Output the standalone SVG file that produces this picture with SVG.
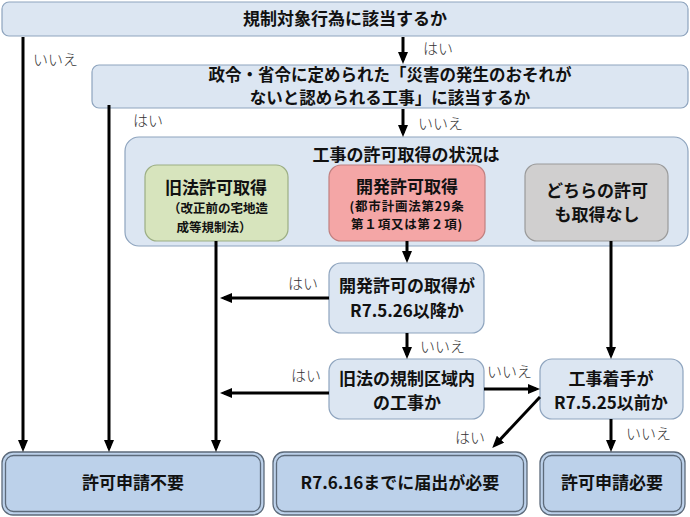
<svg xmlns="http://www.w3.org/2000/svg" width="690" height="517" viewBox="0 0 690 517">
<defs>
<marker id="ah" markerUnits="userSpaceOnUse" markerWidth="12" markerHeight="10" refX="8" refY="5" orient="auto">
<path d="M0,0 L12,5 L0,10 z" fill="#000"/>
</marker>
<style>
.q{fill:#dce6f2;stroke:#8ea4be;stroke-width:1.2}
.g{fill:#d7e4bd;stroke:#9cae84;stroke-width:1.2}
.r{fill:#f4a6a6;stroke:#c08080;stroke-width:1.2}
.n{fill:#d0cfcf;stroke:#9a9a9a;stroke-width:1.2}
.end{fill:#bcd1ea;stroke:#5c6a7a;stroke-width:1.3}
.t{font-family:"Noto Sans CJK JP","Noto Sans",sans-serif;font-weight:bold;font-size:17px;fill:#111;text-anchor:middle}
.t2{font-size:16.5px}
.s{font-family:"Noto Sans CJK JP","Noto Sans",sans-serif;font-weight:bold;font-size:12.5px;fill:#111;text-anchor:middle}
.l{font-family:"Noto Sans CJK JP","Noto Sans",sans-serif;font-weight:300;font-size:15px;fill:#333}
.c line{stroke:#000;stroke-width:3}
.c line.a{marker-end:url(#ah)}
</style>
</defs>

<g id="q1">
<rect class="q" x="2" y="2" width="686" height="34" rx="7"/>
<text class="t" x="345" y="25">規制対象行為に該当するか</text>
</g>
<g id="q2">
<rect class="q" x="92" y="65" width="596" height="43" rx="7"/>
<text class="t t2" x="390" y="81">政令・省令に定められた「災害の発生のおそれが</text>
<text class="t t2" x="390" y="104">ないと認められる工事」に該当するか</text>
</g>
<g id="status">
<rect class="q" x="125" y="137" width="563" height="109" rx="14"/>
<text class="t" x="406" y="161">工事の許可取得の状況は</text>
</g>
<g id="old">
<rect class="g" x="145" y="165" width="143" height="76" rx="12"/>
<text class="t" x="216" y="194">旧法許可取得</text>
<text class="s" x="218" y="213">（改正前の宅地造</text>
<text class="s" x="214" y="232">成等規制法）</text>
</g>
<g id="dev">
<rect class="r" x="329" y="165" width="156" height="76" rx="12"/>
<text class="t" x="407" y="193">開発許可取得</text>
<text class="s" x="407" y="211" style="letter-spacing:0.8px">(都市計画法第29条</text>
<text class="s" x="407" y="229" style="letter-spacing:0.8px">第１項又は第２項)</text>
</g>
<g id="none">
<rect class="n" x="525" y="164" width="143" height="77" rx="12"/>
<text class="t" x="597" y="197">どちらの許可</text>
<text class="t" x="597" y="221">も取得なし</text>
</g>
<g id="q3">
<rect class="q" x="329" y="263" width="155" height="70" rx="12"/>
<text class="t" x="407" y="292">開発許可の取得が</text>
<text class="t" x="407" y="317">R7.5.26以降か</text>
</g>
<g id="q4">
<rect class="q" x="329" y="359" width="155" height="60" rx="12"/>
<text class="t" x="407" y="385">旧法の規制区域内</text>
<text class="t" x="407" y="409">の工事か</text>
</g>
<g id="q5">
<rect class="q" x="540" y="359" width="143" height="60" rx="12"/>
<text class="t" x="611" y="385">工事着手が</text>
<text class="t" x="611" y="409">R7.5.25以前か</text>
</g>
<g id="r1">
<rect class="end" x="2" y="452" width="262" height="63" rx="11"/>
<rect class="end" x="5.5" y="455.5" width="255" height="56" rx="8"/>
<text class="t" x="133" y="489">許可申請不要</text>
</g>
<g id="r2">
<rect class="end" x="273" y="452" width="254" height="63" rx="11"/>
<rect class="end" x="276.5" y="455.5" width="247" height="56" rx="8"/>
<text class="t" x="400" y="489">R7.6.16までに届出が必要</text>
</g>
<g id="r3">
<rect class="end" x="540" y="452" width="145" height="63" rx="11"/>
<rect class="end" x="543.5" y="455.5" width="138" height="56" rx="8"/>
<text class="t" x="612" y="489">許可申請必要</text>
</g>

<g id="connectors" class="c">
<line class="a" x1="403" y1="37" x2="403" y2="60"/>
<line class="a" x1="403" y1="109" x2="403" y2="133"/>
<line class="a" x1="23" y1="37" x2="23" y2="448"/>
<line class="a" x1="109" y1="105" x2="109" y2="448"/>
<line class="a" x1="216" y1="241" x2="216" y2="448"/>
<line class="a" x1="407" y1="241" x2="407" y2="259"/>
<line class="a" x1="407" y1="333" x2="407" y2="355"/>
<line class="a" x1="611" y1="241" x2="611" y2="355"/>
<line class="a" x1="329" y1="298" x2="224" y2="298"/>
<line class="a" x1="329" y1="393" x2="224" y2="393"/>
<line class="a" x1="484" y1="389" x2="536" y2="389"/>
<line class="a" x1="540" y1="397" x2="495" y2="445"/>
<line class="a" x1="611" y1="419" x2="611" y2="448"/>
</g>

<g id="labels">
<text class="l" x="33" y="65">いいえ</text>
<text class="l" x="423" y="54">はい</text>
<text class="l" x="133" y="126">はい</text>
<text class="l" x="418" y="129">いいえ</text>
<text class="l" x="288" y="289">はい</text>
<text class="l" x="420" y="352">いいえ</text>
<text class="l" x="291" y="381">はい</text>
<text class="l" x="487" y="377">いいえ</text>
<text class="l" x="455" y="443">はい</text>
<text class="l" x="626" y="439">いいえ</text>
</g>
</svg>
